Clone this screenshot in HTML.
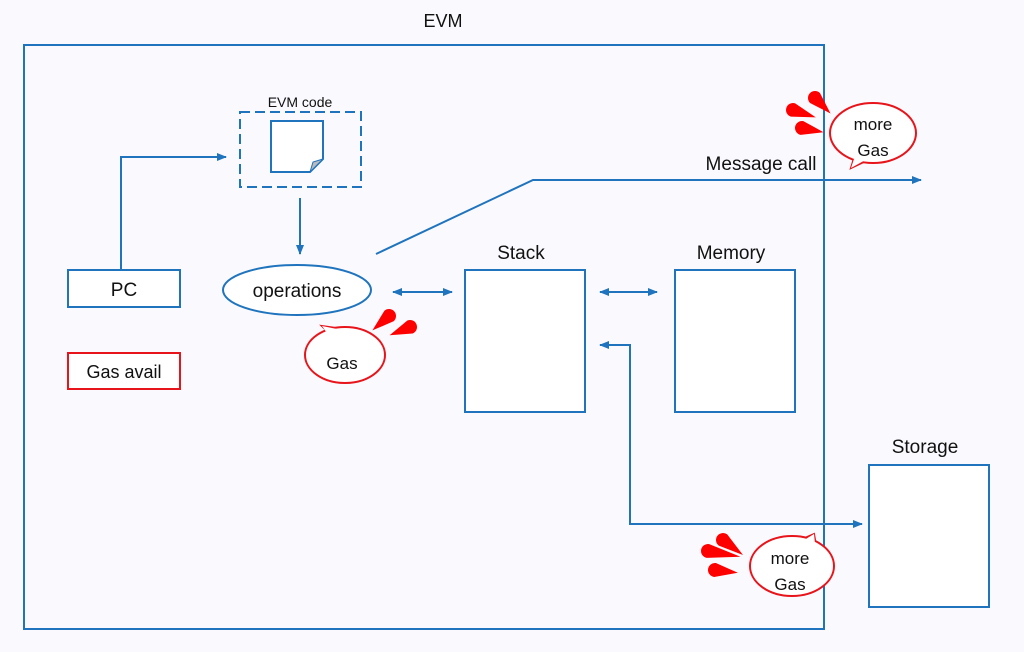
<!DOCTYPE html>
<html><head><meta charset="utf-8"><style>html,body{margin:0;padding:0;background:#fafafe}svg{display:block}text{font-family:"Liberation Sans",sans-serif;fill:#111}</style></head><body>
<svg width="1024" height="652" viewBox="0 0 1024 652" xmlns="http://www.w3.org/2000/svg">
<defs>
<marker id="ah" markerWidth="10" markerHeight="8" refX="9" refY="4" orient="auto-start-reverse" markerUnits="userSpaceOnUse"><path d="M0,0 L10,4 L0,8 Z" fill="#1f74bd"/></marker>
</defs>
<rect width="1024" height="652" fill="#fafafe"/>
<text x="443" y="27" font-size="18" text-anchor="middle">EVM</text>
<rect x="24" y="45" width="800" height="584" fill="none" stroke="#1f74bd" stroke-width="2"/>
<!-- EVM code -->
<text x="300" y="107" font-size="14" text-anchor="middle">EVM code</text>
<rect x="240" y="112" width="121" height="75" fill="none" stroke="#1f74bd" stroke-width="2" stroke-dasharray="10,5"/>
<path d="M271,121 H323 V159 L310,172 H271 Z" fill="#fff" stroke="#1f74bd" stroke-width="2"/>
<path d="M323,159 L310,172 L313,162 Z" fill="#bbb" stroke="#1f74bd" stroke-width="1"/>
<line x1="300" y1="198" x2="300" y2="254" stroke="#1f74bd" stroke-width="2" marker-end="url(#ah)"/>
<!-- PC -->
<rect x="68" y="270" width="112" height="37" fill="#fff" stroke="#1f74bd" stroke-width="2"/>
<text x="124" y="296" font-size="19" text-anchor="middle">PC</text>
<polyline points="121,269 121,157 226,157" fill="none" stroke="#1f74bd" stroke-width="2" marker-end="url(#ah)"/>
<rect x="68" y="353" width="112" height="36" fill="#fff" stroke="#e8141b" stroke-width="2"/>
<text x="124" y="378" font-size="18" text-anchor="middle">Gas avail</text>
<!-- operations -->
<ellipse cx="297" cy="290" rx="74" ry="25" fill="#fff" stroke="#1f74bd" stroke-width="2"/>
<text x="297" y="297" font-size="19" text-anchor="middle">operations</text>
<line x1="393" y1="292" x2="452" y2="292" stroke="#1f74bd" stroke-width="2" marker-start="url(#ah)" marker-end="url(#ah)"/>
<polyline points="376,254 533,180 921,180" fill="none" stroke="#1f74bd" stroke-width="2" marker-end="url(#ah)"/>
<text x="761" y="170" font-size="19" text-anchor="middle">Message call</text>
<!-- Stack / Memory / Storage -->
<text x="521" y="259" font-size="19" text-anchor="middle">Stack</text>
<rect x="465" y="270" width="120" height="142" fill="#fff" stroke="#1f74bd" stroke-width="2"/>
<text x="731" y="259" font-size="19" text-anchor="middle">Memory</text>
<rect x="675" y="270" width="120" height="142" fill="#fff" stroke="#1f74bd" stroke-width="2"/>
<line x1="600" y1="292" x2="657" y2="292" stroke="#1f74bd" stroke-width="2" marker-start="url(#ah)" marker-end="url(#ah)"/>
<polyline points="600,345 630,345 630,524 862,524" fill="none" stroke="#1f74bd" stroke-width="2" marker-start="url(#ah)" marker-end="url(#ah)"/>
<text x="925" y="453" font-size="19" text-anchor="middle">Storage</text>
<rect x="869" y="465" width="120" height="142" fill="#fff" stroke="#1f74bd" stroke-width="2"/>
<!-- Gas bubble -->
<g stroke="#e8141b" stroke-width="2" fill="#fff">
<polygon points="322,326 330,334 343,329"/>
<ellipse cx="345" cy="355" rx="40" ry="28"/>
<polygon points="322,326 329,336 342,330" stroke="none"/>
</g>
<text x="342" y="369" font-size="17" text-anchor="middle">Gas</text>
<g fill="#f00">
<path transform="translate(389,316) rotate(139)" d="M0,-7 A7 7 0 1 0 0,7 L22,0 Z"/>
<path transform="translate(410,327) rotate(158)" d="M0,-7 A7 7 0 1 0 0,7 L22,0 Z"/>
</g>
<!-- more Gas 1 -->
<g stroke="#e8141b" stroke-width="2" fill="#fff">
<polygon points="851,168 855,155 868,160"/>
<ellipse cx="873" cy="133" rx="43" ry="30"/>
<polygon points="851,168 856,153 869,158" stroke="none"/>
</g>
<text x="873" y="130" font-size="17" text-anchor="middle">more</text>
<text x="873" y="156" font-size="17" text-anchor="middle">Gas</text>
<g fill="#f00">
<path transform="translate(793,110) rotate(18)" d="M0,-7 A7 7 0 1 0 0,7 L24,0 Z"/>
<path transform="translate(815,98) rotate(45)" d="M0,-7 A7 7 0 1 0 0,7 L22,0 Z"/>
<path transform="translate(802,128) rotate(11)" d="M0,-7 A7 7 0 1 0 0,7 L22,0 Z"/>
</g>
<!-- more Gas 2 -->
<g stroke="#e8141b" stroke-width="2" fill="#fff">
<polygon points="814,534 800,540 817,551"/>
<ellipse cx="792" cy="566" rx="42" ry="30"/>
<polygon points="814,534 801,542 816,553" stroke="none"/>
</g>
<text x="790" y="564" font-size="17" text-anchor="middle">more</text>
<text x="790" y="590" font-size="17" text-anchor="middle">Gas</text>
<g fill="#f00">
<path transform="translate(708,551) rotate(10)" d="M0,-7 A7 7 0 1 0 0,7 L33,0 Z"/>
<path transform="translate(723,540) rotate(37)" d="M0,-7 A7 7 0 1 0 0,7 L25,0 Z"/>
<path transform="translate(715,570) rotate(7)" d="M0,-7 A7 7 0 1 0 0,7 L23,0 Z"/>
</g>
</svg>
</body></html>
